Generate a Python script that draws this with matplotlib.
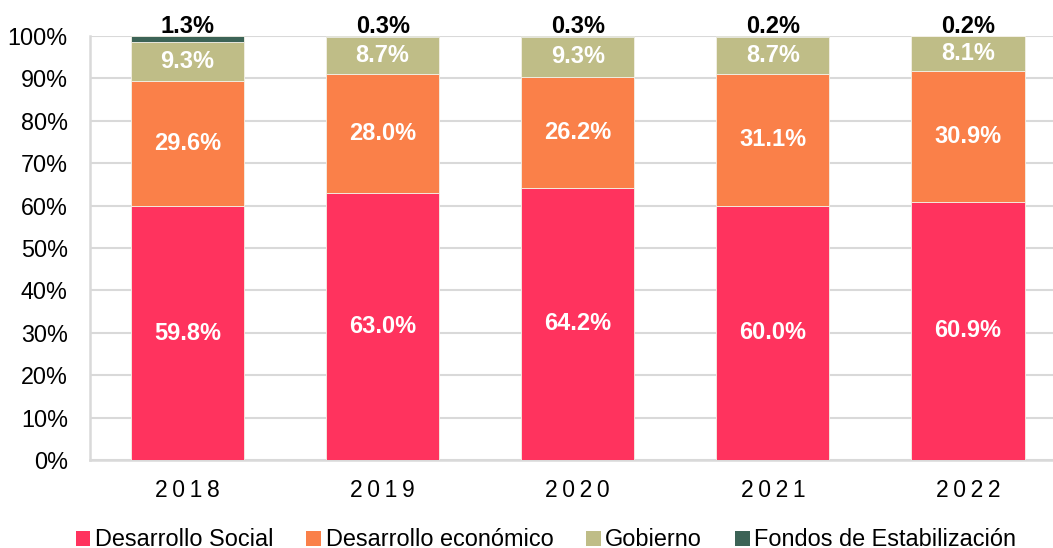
import matplotlib
matplotlib.use("Agg")
import matplotlib.pyplot as plt
import numpy as np

plt.rcParams['font.family'] = ['Liberation Sans', 'DejaVu Sans']

years = ["2018", "2019", "2020", "2021", "2022"]
series_names = ["Desarrollo Social", "Desarrollo económico", "Gobierno", "Fondos de Estabilización"]
social = [59.8, 63.0, 64.2, 60.0, 60.9]
economico = [29.6, 28.0, 26.2, 31.1, 30.9]
gobierno = [9.3, 8.7, 9.3, 8.7, 8.1]
fondos = [1.3, 0.3, 0.3, 0.2, 0.2]
yticks = [0, 10, 20, 30, 40, 50, 60, 70, 80, 90, 100]

colors = ["#FF335E", "#FA8049", "#BFBD87", "#3C6356"]

W, H = 1053, 548
fig = plt.figure(figsize=(W / 100, H / 100), dpi=100)
ax = fig.add_axes([90 / W, 1 - 460 / H, (W - 90) / W, (460 - 36) / H])

x = np.arange(len(years))
width = 0.58
data = [social, economico, gobierno, fondos]
bottom = np.zeros(len(years))
for vals, name, col in zip(data, series_names, colors):
    vals = np.array(vals)
    ax.bar(x, vals, width, bottom=bottom, color=col, label=name,
           edgecolor='#F4F1E6', linewidth=0.6, zorder=3)
    bottom = bottom + vals

# inner labels
bottom = np.zeros(len(years))
for vals in data[:3]:
    vals = np.array(vals)
    for xi, b, v in zip(x, bottom, vals):
        ax.text(xi, b + v / 2, f"{v:.1f}%", ha='center', va='center',
                color='white', fontsize=17, fontweight='bold', zorder=4)
    bottom = bottom + vals
# top labels
for xi, v in zip(x, fondos):
    ax.text(xi, 100.8, f"{v:.1f}%", ha='center', va='baseline', color='black',
            fontsize=17, fontweight='bold', zorder=4, clip_on=False)

ax.set_xlim(-0.5, (W - 188) / 195)
ax.set_ylim(0, 100)
ax.set_yticks(yticks)
ax.set_yticklabels([f"{t}%" for t in yticks], fontsize=16.8)
ax.set_xticks(x)
ax.set_xticklabels(["\u2009".join(y) for y in years], fontsize=16.5)
ax.tick_params(axis='both', length=0, colors='black')
ax.tick_params(axis='y', pad=16)
ax.tick_params(axis='x', pad=14)
ax.grid(axis='y', color='#D9D9D9', linewidth=1.5, zorder=0)
ax.set_axisbelow(True)
for s in ['top', 'right']:
    ax.spines[s].set_visible(False)
for s in ['left', 'bottom']:
    ax.spines[s].set_color('#D9D9D9')
    ax.spines[s].set_linewidth(1.8)

leg = fig.legend(loc='center', bbox_to_anchor=(546 / W, 1 - 540 / H), ncol=4,
                 frameon=False, fontsize=16.9, handlelength=0.62, handleheight=0.62,
                 handletextpad=0.2, columnspacing=1.4, borderpad=0, borderaxespad=0)
for h in leg.legend_handles:
    h.set_linewidth(0)

fig.savefig("out.png", dpi=100)
